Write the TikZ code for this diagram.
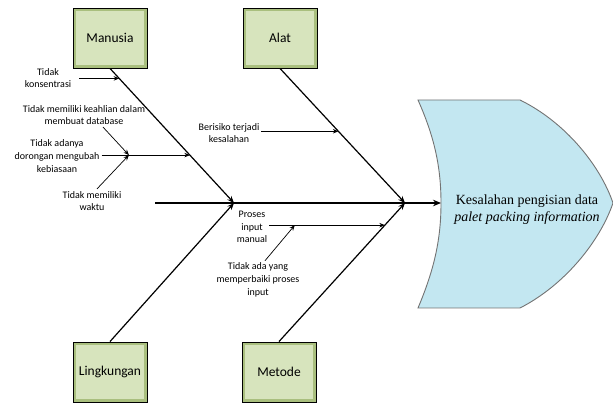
\documentclass[tikz,border=0pt]{standalone}
\usepackage{fontspec}
\usetikzlibrary{arrows.meta}
\setmainfont{Carlito}
\newfontfamily\kepalafont{Liberation Serif}
\definecolor{hijaukotak}{HTML}{D7E4BD}
\definecolor{hijaugelap}{HTML}{A9BF7E}
\definecolor{birukepala}{HTML}{C3E7F1}
\tikzset{
  kategori/.style={draw=black, line width=0.9pt, fill=hijaugelap, minimum width=74pt, minimum height=60pt,
    font=\fontsize{13.5}{16}\selectfont,
    path picture={\fill[hijaukotak] ([shift={(3pt,-3pt)}]path picture bounding box.north west) rectangle ([shift={(-3pt,3pt)}]path picture bounding box.south east);}},
  sebab/.style={font=\fontsize{10}{12.8}\selectfont, align=center, inner sep=2pt},
  tulang/.style={-{Stealth[length=7pt,width=5.5pt]}, line width=1.2pt},
  ranting/.style={-{Stealth[length=5.5pt,width=4.5pt]}, line width=0.7pt}
}

\begin{document}
\begin{tikzpicture}[x=1pt, y=-1pt, >=stealth]
        \useasboundingbox (0,0) rectangle (613,403);
        \node[kategori] (manusia) at (110,38) {Manusia};
        \node[kategori] (alat) at (280,38) {Alat};
        \node[kategori] (lingkungan) at (110,372) {Lingkungan};
        \node[kategori] (metode) at (279,372) {Metode};
        \draw[draw=gray!90!black, fill=birukepala, line width=0.9pt] (418,100) -- (520,100)
            .. controls (565,122) and (600,165) .. (613,203)
            .. controls (600,241) and (565,285) .. (520,308) -- (418,308)
            .. controls (434,270) and (441,240) .. (441,203)
            .. controls (441,166) and (434,136) .. (418,100) -- cycle;
        \node[font=\kepalafont\fontsize{14}{17}\selectfont, align=center] (masalah) at (527,210) {Kesalahan pengisian data\\\textit{palet packing information}};
        \coordinate (ekor) at (155,203);
        \coordinate (jm) at (234,203);
        \coordinate (ja) at (405,203);
        \coordinate (kepala) at (441,203);
        \draw[-{Stealth[length=8pt,width=6.5pt]}, line width=2pt] (ekor) -- (kepala);
        \draw[tulang] (manusia.south) -- (jm);
        \draw[tulang] (lingkungan.north) -- (jm);
        \draw[tulang] (alat.south) -- (ja);
        \draw[tulang] (metode.north) -- (ja);
        \path (manusia.south) -- (jm) coordinate[pos=0.074] (m1) coordinate[pos=0.644] (m2);
        \path (alat.south) -- (ja) coordinate[pos=0.467] (a1);
        \path (metode.north) -- (ja) coordinate[pos=0.84] (t1);
        \node[sebab] (konsentrasi) at (48,78) {Tidak\\konsentrasi};
        \draw[ranting] ([xshift=6pt]konsentrasi.east |- m1) -- (m1);
        \node[sebab] (keahlian) at (84,115) {Tidak memiliki keahlian dalam\\membuat database};
        \node[sebab] (dorongan) at (57,156) {Tidak adanya\\dorongan mengubah\\kebiasaan};
        \draw[ranting] (dorongan.east |- m2) -- (m2);
        \path (dorongan.east |- m2) -- (m2) coordinate[pos=0.31] (d1);
        \draw[ranting] ([xshift=19pt]keahlian.south) -- (d1);
        \node[sebab] (waktu) at (92,201) {Tidak memiliki\\waktu};
        \draw[ranting] ([xshift=5pt]waktu.north) -- (d1);
        \node[sebab] (berisiko) at (229,133) {Berisiko terjadi\\kesalahan};
        \draw[ranting] (berisiko.east |- a1) -- (a1);
        \node[sebab] (proses) at (252,227) {Proses\\input\\manual};
        \draw[ranting] (proses.east |- t1) -- (t1);
        \path (proses.east |- t1) -- (t1) coordinate[pos=0.22] (t2);
        \node[sebab] (perbaikan) at (258,280) {Tidak ada yang\\memperbaiki proses\\input};
        \draw[ranting] ([xshift=7pt]perbaikan.north) -- (t2);
    \end{tikzpicture}
\end{document}
